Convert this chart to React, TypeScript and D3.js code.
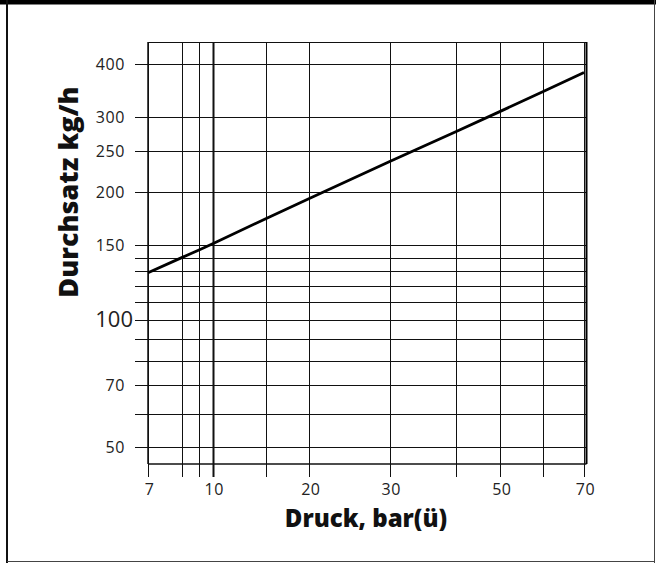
import { useEffect, useRef } from 'react'
import * as d3 from 'd3'

// Durchsatz (kg/h) over Druck (bar ü)
const PRESSURE = [7, 8, 9, 10, 15, 20, 30, 40, 50, 60, 70]
const THROUGHPUT = [129, 140, 146, 151, 173, 193, 236, 278, 310, 345, 383]

const X_GRID = [7, 8, 9, 10, 15, 20, 30, 40, 50, 60, 70]
const X_LABELS = [7, 10, 20, 30, 50, 70]
const X_HEAVY = [10]
// the printed abscissa is not a true log scale: relative position of each grid value
const X_STOPS = [0, 0.0773, 0.117, 0.1484, 0.27, 0.37, 0.5544, 0.7071, 0.808, 0.9053, 1]

const Y_GRID = [50, 60, 70, 80, 90, 100, 110, 120, 130, 140, 150, 200, 250, 300, 400]
const Y_LABELS = [50, 70, 100, 150, 200, 250, 300, 400]
const Y_BIG = [100]
const Y_DOMAIN: [number, number] = [45.6, 452]

const X_TITLE = 'Druck, bar(ü)'
const Y_TITLE = 'Durchsatz kg/h'

export default function App() {
  const svgRef = useRef<SVGSVGElement>(null)

  useEffect(() => {
    const svg = svgRef.current
    if (!svg) return

    const width = 656
    const height = 563
    const margin = { top: 42, left: 148 }
    const innerW = 436
    const innerH = 422
    const font = '"Open Sans", Lato, sans-serif'

    const root = d3.select(svg)
    root.selectAll('*').remove()
    root.attr('width', width).attr('height', height)

    // outer frame
    root.append('rect').attr('x', 0).attr('y', 0).attr('width', width).attr('height', 4.5).attr('fill', '#000')
    root.append('line').attr('x1', 7).attr('x2', 7).attr('y1', 0).attr('y2', height).attr('stroke', '#111').attr('stroke-width', 2)
    root.append('line').attr('x1', 654.5).attr('x2', 654.5).attr('y1', 0).attr('y2', height).attr('stroke', '#444').attr('stroke-width', 1)
    root.append('line').attr('x1', 7).attr('x2', 655).attr('y1', 561.5).attr('y2', 561.5).attr('stroke', '#444').attr('stroke-width', 1)

    const g = root.append('g').attr('transform', `translate(${margin.left},${margin.top})`)

    const x = d3.scaleLinear().domain(X_GRID).range(X_STOPS.map(f => f * innerW))
    const y = d3.scaleLog().domain(Y_DOMAIN).range([innerH, 0])
    const right = innerW + 2.5
    const tick = 13

    // horizontal grid, running out into the left ticks
    g.append('g')
      .selectAll('line')
      .data(Y_GRID)
      .join('line')
      .attr('x1', -tick)
      .attr('x2', right)
      .attr('y1', d => Math.round(y(d)) + 0.5)
      .attr('y2', d => Math.round(y(d)) + 0.5)
      .attr('stroke', '#111')
      .attr('stroke-width', 1)

    // vertical grid, running down into the bottom ticks
    g.append('g')
      .selectAll('line')
      .data(X_GRID)
      .join('line')
      .attr('x1', d => Math.round(x(d)) + 0.5)
      .attr('x2', d => Math.round(x(d)) + 0.5)
      .attr('y1', 0)
      .attr('y2', innerH + tick)
      .attr('stroke', '#111')
      .attr('stroke-width', d => (X_HEAVY.includes(d) ? 2 : 1))

    // plot borders
    g.append('line').attr('x1', 0).attr('x2', right).attr('y1', 0.5).attr('y2', 0.5).attr('stroke', '#111')
    g.append('line').attr('x1', 0).attr('x2', right).attr('y1', innerH).attr('y2', innerH).attr('stroke', '#111').attr('stroke-width', 1.5)
    g.append('line').attr('x1', 0).attr('x2', 0).attr('y1', 0).attr('y2', innerH).attr('stroke', '#111').attr('stroke-width', 1.5)
    g.append('line').attr('x1', right).attr('x2', right).attr('y1', 0).attr('y2', innerH).attr('stroke', '#000').attr('stroke-width', 2)

    // throughput line
    const lineGen = d3.line<number>()
      .x((_, i) => x(PRESSURE[i]))
      .y(d => y(d))
    g.append('path')
      .attr('d', lineGen(THROUGHPUT) ?? '')
      .attr('fill', 'none')
      .attr('stroke', '#000')
      .attr('stroke-width', 2.8)

    // y tick labels
    g.append('g')
      .selectAll('text')
      .data(Y_LABELS)
      .join('text')
      .attr('x', d => (Y_BIG.includes(d) ? -15 : -23))
      .attr('y', d => y(d))
      .attr('dy', '0.36em')
      .attr('text-anchor', 'end')
      .attr('font-family', font)
      .attr('font-size', d => (Y_BIG.includes(d) ? '22px' : '16px'))
      .attr('letter-spacing', d => (Y_BIG.includes(d) ? '0px' : '0.6px'))
      .attr('fill', '#222')
      .text(d => d)

    // x tick labels
    g.append('g')
      .selectAll('text')
      .data(X_LABELS)
      .join('text')
      .attr('x', d => x(d) + 1.5)
      .attr('y', innerH + 31)
      .attr('text-anchor', 'middle')
      .attr('font-family', font)
      .attr('font-size', '16px')
      .attr('letter-spacing', '0.5px')
      .attr('fill', '#222')
      .text(d => d)

    // axis titles
    g.append('text')
      .attr('x', innerW / 2)
      .attr('y', innerH + 63)
      .attr('text-anchor', 'middle')
      .attr('font-family', font)
      .attr('font-weight', 800)
      .attr('font-size', '24px')
      .attr('fill', '#111')
      .text(X_TITLE)

    g.append('text')
      .attr('transform', `translate(-70,${150}) rotate(-90)`)
      .attr('text-anchor', 'middle')
      .attr('font-family', font)
      .attr('font-weight', 800)
      .attr('font-size', '27px')
      .attr('fill', '#111')
      .text(Y_TITLE)
  }, [])

  return (
    <div style={{ position: 'absolute', left: 0, top: 0, background: '#fff' }}>
      <svg ref={svgRef} style={{ display: 'block' }} />
    </div>
  )
}
